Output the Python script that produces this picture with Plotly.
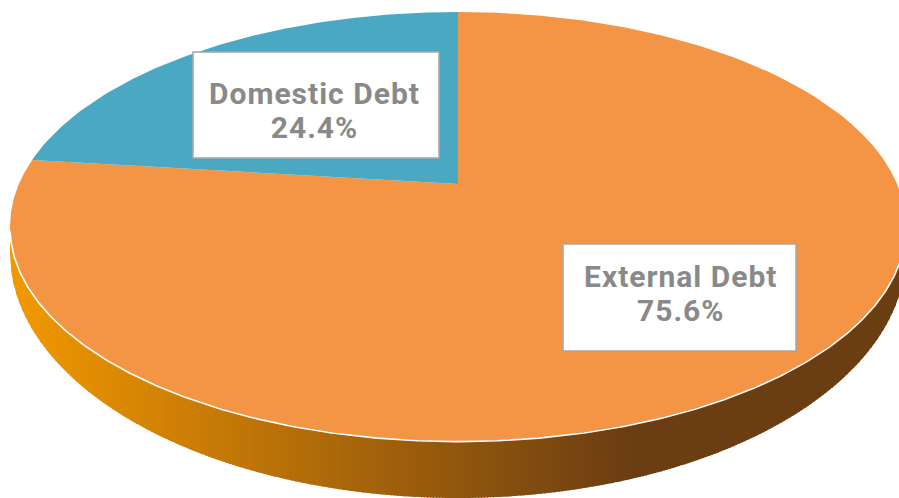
import numpy as np
import plotly.graph_objects as go

# Debt composition, percent of total, clockwise from twelve o'clock
categories = ["External Debt", "Domestic Debt"]
shares = [75.6, 24.4]
slice_colors = ["#F49545", "#4BA8C3"]
label_boxes = [(563, 244, 796, 351), (193, 52, 439, 158)]
label_centers = [(680, 293.5), (314.5, 110.5)]

# Tilted-disc geometry in canvas pixels
W, H = 899, 498
CX, TOP_CY, TOP_A, TOP_B = 458.0, 226.5, 448.0, 214.5
APEX_Y = 184.0
WALL_CY, WALL_B = 253.0, 245.0
EDGE_STRETCH = 1.5  # foreshortening of slice edges as seen from the tilted camera

GRAD_LEFT = np.array([243, 152, 0])
GRAD_RIGHT = np.array([107, 61, 18])
GRAD_X0, GRAD_X1 = 10.0, 630.0


def rim_point(theta):
    """Where a ray leaving the apex at slice angle theta meets the top ellipse."""
    dx, dy = np.sin(theta), -np.cos(theta) * EDGE_STRETCH
    ox, oy = 0.0, APEX_Y - TOP_CY
    a = (dx / TOP_A) ** 2 + (dy / TOP_B) ** 2
    b = 2 * (ox * dx / TOP_A**2 + oy * dy / TOP_B**2)
    c = (ox / TOP_A) ** 2 + (oy / TOP_B) ** 2 - 1
    t = (-b + np.sqrt(b * b - 4 * a * c)) / (2 * a)
    return CX + t * dx, APEX_Y + t * dy


def sector(theta0, theta1):
    thetas = np.linspace(theta0, theta1, 240)
    xs, ys = zip(*(rim_point(t) for t in thetas))
    return [CX, *xs, CX], [APEX_Y, *ys, APEX_Y]


fig = go.Figure()

# Side wall: vertical strips shaded left to right, each overlapping the next
edges = np.arange(CX - TOP_A, CX + TOP_A, 3.0)
for x0 in edges:
    x1 = min(x0 + 4.0, CX + TOP_A)
    xs = np.linspace(x0, x1, 4)
    u = np.clip((xs - CX) / TOP_A, -1, 1)
    root = np.sqrt(1 - u * u)
    upper = TOP_CY + TOP_B * root - 2
    lower = WALL_CY + WALL_B * root
    t = np.clip((x0 + 1.5 - GRAD_X0) / (GRAD_X1 - GRAD_X0), 0, 1)
    r, g, b = (GRAD_LEFT + (GRAD_RIGHT - GRAD_LEFT) * t).round().astype(int)
    color = f"rgb({r},{g},{b})"
    fig.add_trace(go.Scatter(
        x=np.r_[xs, xs[::-1]], y=np.r_[upper, lower[::-1]],
        mode="lines", fill="toself", fillcolor=color,
        line=dict(width=0, color=color), hoverinfo="skip",
    ))

# Top face: one sector per category, sweep proportional to its share
start = 0.0
total = sum(shares)
for name, share, color in zip(categories, shares, slice_colors):
    sweep = 2 * np.pi * share / total
    xs, ys = sector(start, start + sweep)
    fig.add_trace(go.Scatter(
        x=xs, y=ys, name=name, mode="lines", fill="toself", fillcolor=color,
        line=dict(width=0, color=color), hoverinfo="skip",
    ))
    start += sweep

# White highlight along the front rim
phi = np.linspace(0.02, np.pi - 0.02, 300)
fig.add_trace(go.Scatter(
    x=CX + TOP_A * np.cos(phi), y=TOP_CY + TOP_B * np.sin(phi) + 0.6,
    mode="lines", line=dict(color="white", width=1.6), hoverinfo="skip",
))

# Data labels: white boxes with the category and its share; the annotation font
# size sets the tight line spacing, the inner spans set the glyph size
def label_line(text):
    return f'<b><span style="font-size:30px;letter-spacing:1px">{text}</span></b>'


shapes = []
annotations = []
for name, share, box, (xm, ym) in zip(categories, shares, label_boxes, label_centers):
    x0, y0, x1, y1 = box
    shapes.append(dict(type="rect", x0=x0, y0=y0, x1=x1, y1=y1, xref="x", yref="y",
                       fillcolor="white", line=dict(color="#A6A6A6", width=1.5)))
    annotations.append(dict(
        x=xm, y=ym, xref="x", yref="y",
        text=label_line(name) + "<br>" + label_line(f"{share:.1f}%"),
        showarrow=False, xanchor="center", yanchor="middle", align="center",
        font=dict(family="Roboto", size=26, color="#898989"),
    ))

fig.update_layout(
    width=W, height=H, autosize=False, showlegend=False,
    margin=dict(l=0, r=0, t=0, b=0),
    paper_bgcolor="white", plot_bgcolor="white",
    xaxis=dict(range=[0, W], visible=False, fixedrange=True),
    yaxis=dict(range=[H, 0], visible=False, fixedrange=True),
    shapes=shapes, annotations=annotations,
)
fig.write_html("out.html", config={"displayModeBar": False})
